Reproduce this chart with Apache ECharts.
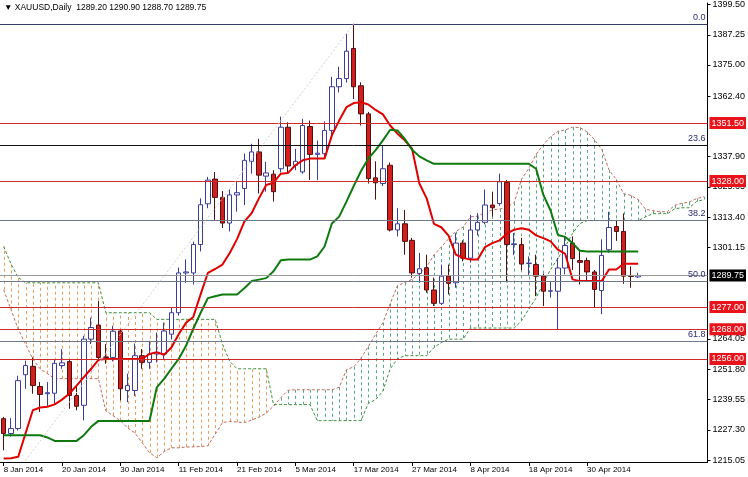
<!DOCTYPE html>
<html><head><meta charset="utf-8">
<script src="https://cdn.jsdelivr.net/npm/echarts@6/dist/echarts.min.js"></script>
<style>html,body{margin:0;padding:0;background:#fff}#c{width:748px;height:477px}</style>
</head><body><div id="c"></div>
<script>
const dates = ['8 Jan 2014','9 Jan 2014','10 Jan 2014','13 Jan 2014','14 Jan 2014','15 Jan 2014','16 Jan 2014','17 Jan 2014','20 Jan 2014','21 Jan 2014','22 Jan 2014','23 Jan 2014','24 Jan 2014','27 Jan 2014','28 Jan 2014','29 Jan 2014','30 Jan 2014','31 Jan 2014','3 Feb 2014','4 Feb 2014','5 Feb 2014','6 Feb 2014','7 Feb 2014','10 Feb 2014','11 Feb 2014','12 Feb 2014','13 Feb 2014','14 Feb 2014','17 Feb 2014','18 Feb 2014','19 Feb 2014','20 Feb 2014','21 Feb 2014','24 Feb 2014','25 Feb 2014','26 Feb 2014','27 Feb 2014','28 Feb 2014','3 Mar 2014','4 Mar 2014','5 Mar 2014','6 Mar 2014','7 Mar 2014','10 Mar 2014','11 Mar 2014','12 Mar 2014','13 Mar 2014','14 Mar 2014','17 Mar 2014','18 Mar 2014','19 Mar 2014','20 Mar 2014','21 Mar 2014','24 Mar 2014','25 Mar 2014','26 Mar 2014','27 Mar 2014','28 Mar 2014','31 Mar 2014','1 Apr 2014','2 Apr 2014','3 Apr 2014','4 Apr 2014','7 Apr 2014','8 Apr 2014','9 Apr 2014','10 Apr 2014','11 Apr 2014','14 Apr 2014','15 Apr 2014','16 Apr 2014','17 Apr 2014','18 Apr 2014','21 Apr 2014','22 Apr 2014','23 Apr 2014','24 Apr 2014','25 Apr 2014','28 Apr 2014','29 Apr 2014','30 Apr 2014','1 May 2014','2 May 2014','5 May 2014','6 May 2014','7 May 2014','8 May 2014','9 May 2014','12 May 2014','13 May 2014','14 May 2014','15 May 2014','16 May 2014','19 May 2014','20 May 2014','21 May 2014','22 May 2014'];

const opens = [1231.8,1225.8,1227.8,1249.6,1253.0,1244.8,1241.9,1242.1,1253.3,1254.9,1241.2,1237.2,1264.0,1269.7,1256.8,1256.6,1267.3,1243.2,1243.2,1257.3,1254.6,1258.0,1258.0,1266.0,1274.7,1290.8,1290.8,1302.3,1318.8,1328.8,1321.4,1311.0,1322.4,1325.0,1336.0,1339.8,1330.0,1330.8,1333.0,1349.8,1334.4,1331.7,1350.1,1338.8,1339.1,1348.5,1366.2,1369.5,1381.7,1366.6,1355.2,1329.3,1327.0,1334.4,1308.2,1310.7,1304.0,1290.6,1292.9,1283.9,1278.5,1289.5,1286.8,1302.9,1296.8,1308.2,1311.3,1318.3,1318.9,1327.5,1302.3,1302.3,1294.6,1294.2,1289.5,1283.4,1283.4,1292.8,1302.9,1295.8,1295.8,1291.2,1283.7,1300.2,1309.6,1307.6,1289.6,1289.20];
const closes = [1225.8,1227.8,1247.2,1253.3,1245.2,1241.6,1242.3,1254.2,1254.4,1241.2,1236.8,1264.0,1268.7,1256.6,1256.5,1267.2,1243.9,1245.2,1257.3,1254.6,1258.0,1258.6,1267.3,1274.7,1290.8,1291.2,1302.3,1318.4,1328.4,1321.4,1311.0,1322.4,1323.3,1336.4,1339.8,1330.4,1331.3,1323.7,1349.8,1334.1,1336.0,1350.5,1338.8,1339.3,1348.5,1366.2,1369.5,1380.6,1366.2,1355.2,1329.0,1327.3,1333.0,1308.2,1310.7,1303.6,1290.8,1292.5,1283.9,1278.5,1289.5,1286.6,1302.9,1296.8,1308.2,1311.3,1318.3,1317.2,1327.7,1302.3,1302.6,1294.4,1294.8,1289.5,1283.4,1283.6,1292.8,1301.9,1296.6,1295.1,1291.2,1284.1,1297.9,1309.2,1307.6,1289.5,1289.4,1289.75];
const lows = [1219.0,1224.5,1227.0,1243.9,1241.9,1234.5,1236.5,1237.6,1252.0,1235.8,1235.2,1231.1,1262.0,1256.0,1254.0,1255.0,1239.2,1238.5,1241.0,1252.0,1252.0,1254.6,1256.0,1264.0,1273.5,1286.8,1286.1,1299.5,1317.0,1312.3,1309.0,1307.6,1315.6,1318.3,1331.0,1323.0,1323.7,1319.7,1331.5,1331.0,1332.4,1331.0,1328.4,1328.4,1337.0,1346.5,1363.9,1367.9,1361.2,1350.5,1327.0,1320.5,1326.0,1307.6,1305.6,1298.2,1288.9,1286.8,1282.8,1277.4,1277.8,1282.1,1284.8,1295.5,1295.0,1306.0,1310.5,1313.6,1318.0,1287.0,1298.0,1292.0,1290.0,1281.4,1277.4,1280.8,1268.1,1290.2,1292.0,1286.1,1287.5,1276.7,1274.1,1299.0,1303.8,1286.4,1284.8,1288.70];
const highs = [1232.5,1232.0,1249.2,1255.3,1256.6,1246.6,1246.6,1255.6,1260.0,1255.5,1244.6,1265.3,1272.7,1279.4,1262.0,1269.4,1268.0,1250.0,1262.2,1260.0,1263.3,1266.7,1270.7,1276.7,1293.0,1296.3,1303.5,1321.0,1329.7,1331.7,1324.0,1324.6,1327.7,1339.1,1343.1,1345.1,1335.8,1332.4,1354.1,1351.8,1341.1,1353.2,1352.5,1344.4,1352.2,1370.2,1374.3,1387.6,1391.7,1368.0,1356.0,1336.0,1342.4,1335.5,1317.0,1316.3,1305.0,1298.9,1298.2,1288.9,1294.2,1294.2,1306.9,1304.0,1314.3,1315.0,1324.6,1323.7,1331.0,1328.5,1307.0,1305.0,1297.5,1298.2,1290.5,1287.5,1296.9,1305.6,1305.6,1300.2,1297.0,1292.0,1304.4,1315.6,1312.3,1314.9,1293.5,1290.90];

const tenkan = [1215.7,1215.8,1216.4,1225.8,1235.2,1236.3,1236.6,1237.6,1239.5,1241.9,1245.2,1248.6,1252.0,1255.6,1256.0,1256.0,1256.0,1256.0,1256.0,1256.0,1258.0,1258.7,1257.7,1260.6,1266.0,1270.6,1273.0,1282.1,1290.8,1292.4,1294.2,1298.9,1304.5,1311.6,1315.0,1321.0,1326.4,1327.3,1331.0,1331.3,1334.4,1336.4,1337.1,1337.1,1337.1,1346.5,1352.5,1357.9,1359.6,1359.9,1359.0,1356.8,1355.0,1350.5,1347.2,1344.5,1341.1,1327.0,1321.0,1310.7,1309.3,1305.9,1298.2,1296.9,1296.2,1296.2,1301.3,1302.9,1304.0,1306.7,1308.3,1308.9,1308.3,1306.0,1304.9,1303.6,1300.2,1298.5,1288.2,1287.5,1287.5,1287.5,1287.5,1292.2,1292.2,1294.5,1294.5,1294.5];
const kijun = [1225.1,1225.1,1225.1,1225.1,1225.1,1225.1,1224.2,1222.8,1222.8,1222.8,1222.8,1225.1,1228.5,1230.9,1230.9,1230.9,1230.9,1230.9,1230.9,1230.9,1230.9,1244.5,1247.9,1252.0,1256.0,1261.3,1268.2,1274.6,1280.6,1281.4,1282.1,1282.1,1282.1,1284.6,1287.5,1288.1,1288.7,1291.5,1295.9,1296.2,1296.2,1296.2,1296.2,1297.5,1301.5,1310.8,1313.6,1319.7,1326.0,1332.1,1337.1,1340.5,1344.5,1348.8,1348.5,1345.1,1340.7,1338.0,1336.4,1335.0,1335.0,1335.0,1335.0,1335.0,1335.0,1335.0,1335.0,1335.0,1335.0,1335.0,1335.0,1335.0,1335.0,1333.0,1322.4,1316.0,1306.2,1305.4,1302.9,1299.8,1299.5,1299.5,1299.5,1299.5,1299.5,1299.5,1299.5,1299.5];
const spanA = [1284,1276,1268,1262,1256,1252,1250,1248,1248,1248,1248,1248,1248,1248,1235,1233,1231,1228,1226,1222,1218,1216,1218.5,1220,1220,1220.3,1220.4,1220.5,1220.8,1225.5,1230.2,1230.7,1230.4,1230.2,1231.2,1232.4,1234.0,1236.9,1240.3,1243.3,1243.5,1243.5,1243.5,1243.5,1243.5,1243.5,1244.5,1251.6,1252.8,1256.3,1261.0,1266.0,1270.6,1278.4,1285.7,1286.9,1288.2,1290.5,1293.3,1298.1,1301.3,1304.6,1307.6,1309.4,1313.5,1313.8,1315.3,1316.3,1316.7,1317.3,1319.3,1328.7,1333.1,1338.8,1342.8,1346.0,1348.1,1348.7,1349.8,1349.7,1347.9,1344.8,1340.9,1332.5,1328.7,1322.9,1322.2,1320.5,1316.6,1316.0,1315.6,1315.6,1318.2,1319.0,1319.5,1320.9,1321.7];
const spanB = [1301.5,1294.5,1289.0,1286.8,1286.8,1286.8,1286.8,1286.8,1286.8,1286.8,1286.8,1286.8,1286.8,1286.8,1274.7,1274.7,1274.7,1274.7,1274.7,1274.7,1274.7,1272.0,1272.0,1272.0,1272.0,1272.0,1272.0,1272.0,1272.0,1272.0,1262.0,1255.0,1252.0,1252.0,1252.0,1252.0,1252.0,1237.5,1237.5,1237.5,1237.5,1237.5,1237.5,1231.0,1231.0,1231.0,1231.0,1231.0,1231.0,1231.0,1238.0,1239.5,1243.0,1252.0,1256.0,1257.3,1257.3,1257.3,1257.3,1260.6,1262.6,1264.0,1264.0,1264.0,1268.5,1268.5,1268.5,1268.5,1268.5,1268.5,1268.5,1271.4,1276.2,1280.6,1286.7,1292.3,1296.7,1301.5,1306.8,1310.8,1312.0,1312.0,1312.0,1312.0,1312.0,1312.0,1312.0,1312.0,1313.5,1314.8,1314.8,1314.8,1316.8,1317.2,1317.2,1319.7,1320.5];

const redLevels = [1351.50, 1328.00, 1277.00, 1268.00, 1256.00];
const fibLevels = [1391.7, 1342.6, 1312.2, 1287.6, 1263.05];
const fibNames = ['0.0', '23.6', '38.2', '50.0', '61.8'];
const fibTrend = [[3, 1214.9], [48, 1391.7]];
const lastPrice = 1289.75;
const yTicks = [1399.50, 1387.25, 1375.00, 1362.40, 1337.90, 1325.65, 1313.40, 1301.15, 1264.05, 1251.80, 1239.55, 1227.30, 1215.05];

const FONT = 'Liberation Sans';
const n = opens.length - 1;
const candles = opens.map((o, i) => [o, closes[i], lows[i], highs[i]]);
const fmt = v => v.toFixed(2);

const chart = echarts.init(document.getElementById('c'), null, {renderer: 'canvas'});
const hatch = spanA.map((a, i) => [i, a, spanB[i]]);

chart.setOption({
  animation: false,
  backgroundColor: '#fff',
  textStyle: {fontFamily: FONT},
  title: {
    text: '\u25BC XAUUSD,Daily  ' + [opens[n], highs[n], lows[n], closes[n]].map(fmt).join(' '),
    left: 4, top: 3, padding: 0,
    textStyle: {fontSize: 8.5, fontWeight: 'normal', color: '#000', fontFamily: FONT}
  },
  grid: {left: -3.18, right: 37, top: 0, bottom: 15, containLabel: false},
  xAxis: {
    type: 'category', data: dates, boundaryGap: true,
    axisLine: {show: true, lineStyle: {color: '#000', width: 1}},
    axisTick: {show: true, alignWithLabel: true, length: 4, interval: (i) => i % 8 === 0 && i <= 80, lineStyle: {color: '#000'}},
    axisLabel: {interval: (i) => i % 8 === 0 && i <= 80, align: 'left', margin: 4, fontSize: 8, color: '#000', fontFamily: FONT},
    splitLine: {show: false}
  },
  yAxis: {
    type: 'value', position: 'right', min: 1214.25, max: 1400.1,
    axisLine: {show: true, lineStyle: {color: '#000', width: 1}},
    axisTick: {show: true, length: 3, customValues: yTicks, lineStyle: {color: '#000'}},
    axisLabel: {customValues: yTicks, formatter: v => fmt(v), margin: 5, fontSize: 9, color: '#000', fontFamily: FONT},
    splitLine: {show: false}
  },
  series: [
    {
      type: 'custom', name: 'kumo', silent: true, clip: true, z: 1,
      data: hatch,
      encode: {x: 0, y: [1, 2]},
      renderItem: (params, api) => {
        const i = api.value(0), a = api.value(1), b = api.value(2);
        const p1 = api.coord([i, a]), p2 = api.coord([i, b]);
        const x = Math.round(p1[0]) + 0.5;
        return {
          type: 'line',
          shape: {x1: x, y1: p1[1], x2: x, y2: p2[1]},
          style: {stroke: a >= b ? '#55a884' : '#e59c5c', lineWidth: 1, lineDash: [3, 3]}
        };
      }
    },
    {type: 'line', name: 'Senkou A', data: spanA, symbol: 'none', silent: true, z: 2,
     lineStyle: {color: '#c46a60', width: 1, type: [3, 2]}},
    {type: 'line', name: 'Senkou B', data: spanB, symbol: 'none', silent: true, z: 2,
     lineStyle: {color: '#3f8f3f', width: 1, type: [3, 2]}},
    {
      type: 'candlestick', name: 'XAUUSD', data: candles, barWidth: 5, z: 3,
      itemStyle: {color: '#ffffff', borderColor: '#3c3c9c', color0: '#d41e1e', borderColor0: '#501010', borderWidth: 1},
      markLine: {
        silent: true, symbol: 'none', animation: false,
        data: [
          ...redLevels.map(v => ({yAxis: v, lineStyle: {color: '#cc2a2a', width: 1, type: 'solid'},
            label: {show: true, position: 'end', distance: 2, formatter: fmt(v), color: '#fff', backgroundColor: '#e8141b', padding: [2, 2, 1, 2], fontSize: 9, fontFamily: FONT}})),
          {yAxis: lastPrice, lineStyle: {color: '#9a9a9a', width: 1, type: 'solid'},
            label: {show: true, position: 'end', distance: 2, formatter: fmt(lastPrice), color: '#fff', backgroundColor: '#000', padding: [2, 2, 1, 2], fontSize: 9, fontFamily: FONT}},
          ...fibLevels.map((v, k) => ({yAxis: v, lineStyle: {color: k === 1 ? '#111' : (k === 0 ? '#3a3a6a' : '#6f7788'), width: 1, type: 'solid'},
            label: {show: true, position: 'insideEndTop', distance: 2, formatter: fibNames[k], color: '#2a2a7a', fontSize: 9, fontFamily: FONT}})),
          [{coord: fibTrend[0], lineStyle: {color: '#cfcfcf', width: 1, type: [2, 2]}, label: {show: false}}, {coord: fibTrend[1]}]
        ]
      }
    },
    {type: 'line', name: 'Tenkan', data: tenkan, symbol: 'none', silent: true, z: 4,
     lineStyle: {color: '#e00000', width: 2}},
    {type: 'line', name: 'Kijun', data: kijun, symbol: 'none', silent: true, z: 4,
     lineStyle: {color: '#0e7a0e', width: 2}}
  ]
});
</script></body></html>
